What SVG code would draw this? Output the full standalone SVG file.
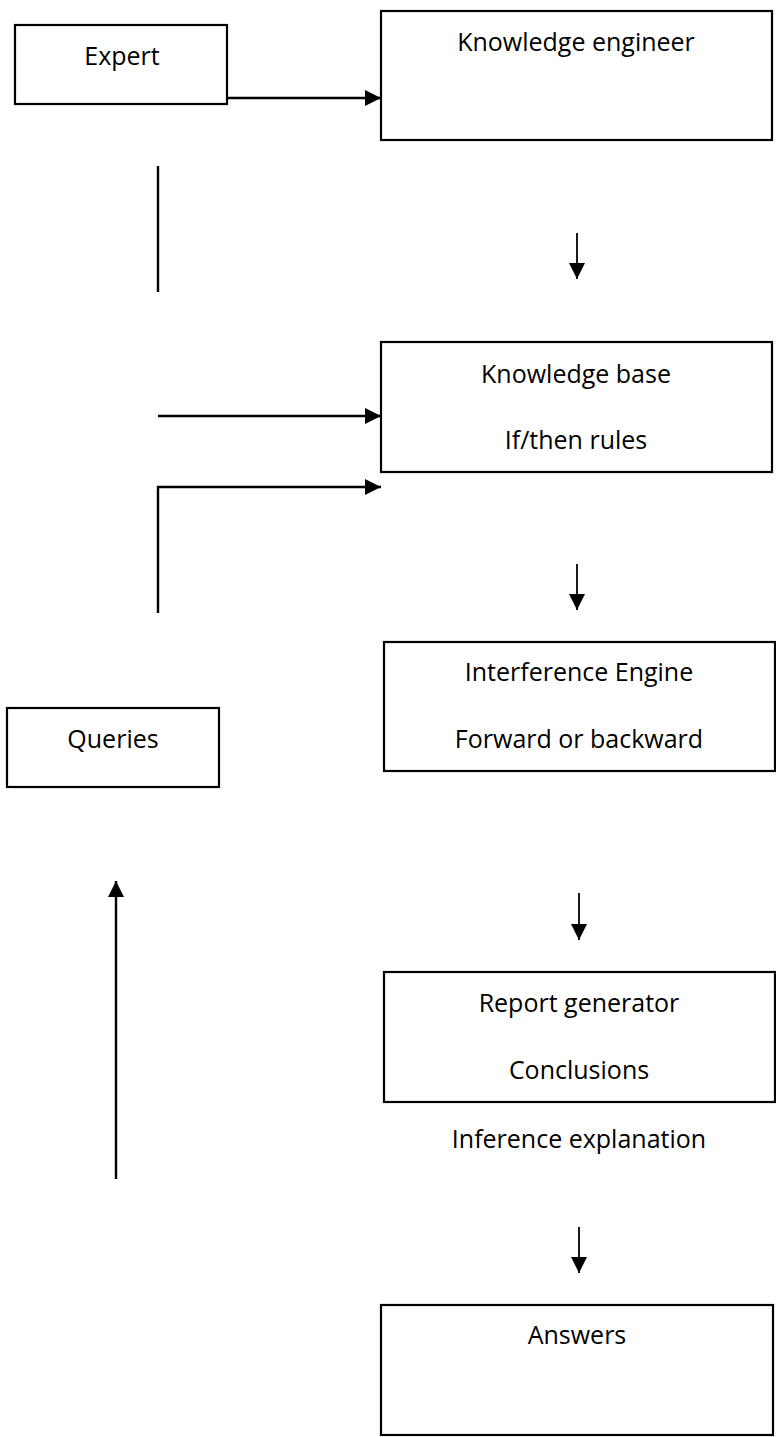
<svg xmlns="http://www.w3.org/2000/svg" width="776" height="1437" viewBox="0 0 776 1437">
<style>
.box{fill:#fff;stroke:#000;stroke-width:2.2}
.t{font-family:"Open Sans","Liberation Sans",sans-serif;font-size:25px;fill:#000;text-anchor:middle}
.c{fill:none;stroke:#000;stroke-width:2.4}
.d{fill:none;stroke:#000;stroke-width:1.8}
</style>
<defs>
<marker id="ah" markerUnits="userSpaceOnUse" markerWidth="16" markerHeight="16" refX="16" refY="8" orient="auto"><path d="M0,0 L16,8 L0,16 Z" fill="#000"/></marker>
</defs>
<rect width="776" height="1437" fill="#fff"/>
<g id="expert"><rect class="box" x="15" y="25" width="212" height="79"/><text class="t" x="122" y="65">Expert</text></g>
<g id="knowledge-engineer"><rect class="box" x="381" y="11" width="391" height="129"/><text class="t" x="576" y="51">Knowledge engineer</text></g>
<g id="knowledge-base"><rect class="box" x="381" y="342" width="391" height="130"/><text class="t" x="576" y="383">Knowledge base</text><text class="t" x="576" y="449">If/then rules</text></g>
<g id="queries"><rect class="box" x="7" y="708" width="212" height="79"/><text class="t" x="113" y="748">Queries</text></g>
<g id="inference-engine"><rect class="box" x="384" y="642" width="391" height="129"/><text class="t" x="579" y="681">Interference Engine</text><text class="t" x="579" y="748">Forward or backward</text></g>
<g id="report-generator"><rect class="box" x="384" y="972" width="391" height="130"/><text class="t" x="579" y="1012">Report generator</text><text class="t" x="579" y="1079">Conclusions</text></g>
<g id="inference-explanation"><text class="t" x="579" y="1148">Inference explanation</text></g>
<g id="answers"><rect class="box" x="381" y="1305" width="392" height="130"/><text class="t" x="577" y="1344">Answers</text></g>
<g id="connectors">
<path class="c" d="M228,98 H381" marker-end="url(#ah)"/>
<path class="c" d="M158,166 V292"/>
<path class="d" d="M577,233 V279" marker-end="url(#ah)"/>
<path class="c" d="M158,416 H381" marker-end="url(#ah)"/>
<path class="c" d="M158,613 V487 H381" marker-end="url(#ah)"/>
<path class="d" d="M577,564 V610" marker-end="url(#ah)"/>
<path class="c" d="M116,1179 V881" marker-end="url(#ah)"/>
<path class="d" d="M579,893 V940" marker-end="url(#ah)"/>
<path class="d" d="M579,1227 V1273" marker-end="url(#ah)"/>
</g>
</svg>
